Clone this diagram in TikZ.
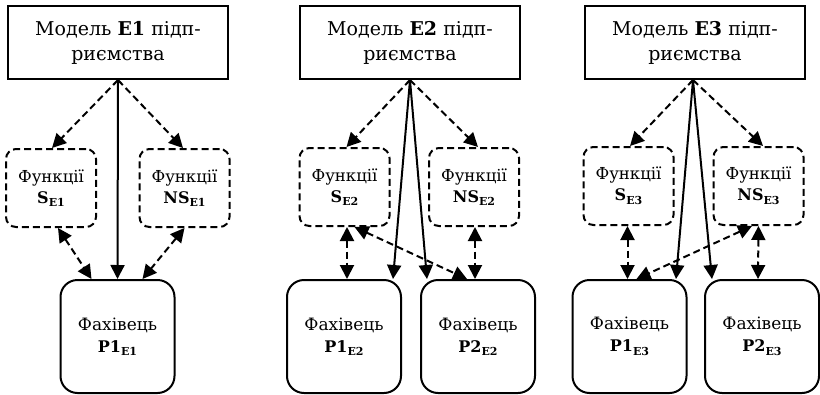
\documentclass[tikz,border=0pt]{standalone}
\usepackage{fontspec}
\setmainfont{DejaVu Serif}
\newfontfamily\labfont{DejaVu Serif}
\usetikzlibrary{arrows.meta,calc}

% bold label with a small lowered index, e.g. S_{E1}
\newcommand\idxlabel[2]{{\labfont\bfseries\fontsize{16}{18}\selectfont #1\raisebox{-3.5pt}{\fontsize{11}{11}\selectfont #2}}}

\tikzset{
  x=1pt, y=-1pt,
  lw/.style={line width=2pt},
  arrowtip/.style={Triangle[length=14pt,width=14pt]},
  topbox/.style={lw, draw, rectangle, minimum width=220pt, minimum height=73pt,
    inner sep=0pt, align=center, font=\fontsize{19}{25}\selectfont},
  funcbox/.style={lw, draw, dash pattern=on 7pt off 4pt, rounded corners=10pt,
    minimum width=90pt, minimum height=78pt, inner sep=0pt, align=center,
    font=\fontsize{16.5}{21}\selectfont},
  personbox/.style={lw, draw, rounded corners=17pt, minimum width=114pt,
    minimum height=113pt, inner sep=0pt, align=center,
    font=\fontsize{17}{22}\selectfont},
  solidarrow/.style={lw, -{Triangle[length=14pt,width=14pt]}},
  dasharrow/.style={lw, dash pattern=on 7pt off 4pt, -{Triangle[length=14pt,width=14pt]}},
  dashboth/.style={lw, dash pattern=on 7pt off 4pt,
    {Triangle[length=14pt,width=14pt]}-{Triangle[length=14pt,width=14pt]}},
}

\begin{document}
\begin{tikzpicture}
\useasboundingbox (0,0) rectangle (820,394);

% ---------- enterprise E1 ----------
\node[topbox] (T1) at (118,42.5) {Модель \textbf{E1} підп-\\риємства};
\node[funcbox] (S1) at (51,188) {Функції\\\idxlabel{S}{E1}};
\node[funcbox] (NS1) at (184.5,188) {Функції\\\idxlabel{NS}{E1}};
\node[personbox] (P11) at (117.5,336.5) {Фахівець\\\idxlabel{P1}{E1}};

\draw[dasharrow] (T1.south) -- ($(S1.north)+(1,0)$);
\draw[dasharrow] (T1.south) -- ($(NS1.north)+(-1.5,0)$);
\draw[solidarrow] (T1.south) -- (P11.north);
\draw[dashboth] ($(S1.south)+(7,0)$) -- ($(P11.north)+(-26,0)$);
\draw[dashboth] (NS1.south) -- ($(P11.north)+(25,0)$);

% ---------- enterprise E2 ----------
\node[topbox] (T2) at (410,42.5) {Модель \textbf{E2} підп-\\риємства};
\node[funcbox] (S2) at (344.5,187) {Функції\\\idxlabel{S}{E2}};
\node[funcbox] (NS2) at (474,187) {Функції\\\idxlabel{NS}{E2}};
\node[personbox] (P12) at (344,336.5) {Фахівець\\\idxlabel{P1}{E2}};
\node[personbox] (P22) at (478,336.5) {Фахівець\\\idxlabel{P2}{E2}};

\draw[dasharrow] (T2.south) -- ($(S2.north)+(2,0)$);
\draw[dasharrow] (T2.south) -- ($(NS2.north)+(4,0)$);
\draw[solidarrow] (T2.south) -- ($(P12.north)+(49,0)$);
\draw[solidarrow] (T2.south) -- ($(P22.north)+(-51,0)$);
\draw[dashboth] ($(S2.south)+(2.5,0)$) -- ($(P12.north)+(3,0)$);
\draw[dashboth] ($(NS2.south)+(1,0)$) -- ($(P22.north)+(-3,0)$);
\draw[dashboth] ($(S2.south)+(10,0)$) -- ($(P22.north)+(-11,0)$);

% ---------- enterprise E3 ----------
\node[topbox] (T3) at (695,42.5) {Модель \textbf{E3} підп-\\риємства};
\node[funcbox] (S3) at (628.5,186) {Функції\\\idxlabel{S}{E3}};
\node[funcbox] (NS3) at (758.5,186) {Функції\\\idxlabel{NS}{E3}};
\node[personbox] (P13) at (629.5,336.5) {Фахівець\\\idxlabel{P1}{E3}};
\node[personbox] (P23) at (762,336.5) {Фахівець\\\idxlabel{P2}{E3}};

\draw[dasharrow] ($(T3.south)+(-2,0)$) -- ($(S3.north)+(1.5,0)$);
\draw[dasharrow] ($(T3.south)+(-2,0)$) -- ($(NS3.north)+(4.5,0)$);
\draw[solidarrow] ($(T3.south)+(-2,0)$) -- ($(P13.north)+(46.5,0)$);
\draw[solidarrow] ($(T3.south)+(-2,0)$) -- ($(P23.north)+(-50,0)$);
\draw[dashboth] ($(S3.south)+(-1,0)$) -- ($(P13.north)+(-2,0)$);
\draw[dashboth] (NS3.south) -- ($(P23.north)+(-4,0)$);
\draw[dashboth] ($(NS3.south)+(-6.5,0)$) -- ($(P13.north)+(7,0)$);
\end{tikzpicture}
\end{document}
